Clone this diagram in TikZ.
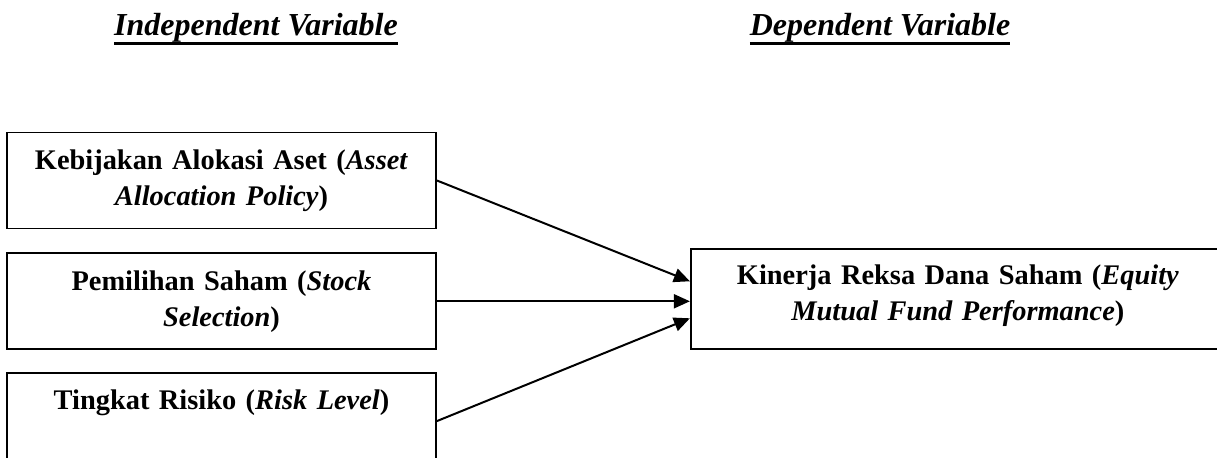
\documentclass[tikz,border=0pt]{standalone}
\usepackage{fontspec}
\setmainfont{Liberation Serif}
\usetikzlibrary{arrows.meta, positioning}

% thick underline for the headings
\newcommand{\headline}[1]{\setbox0\hbox{#1}\rlap{\rule[-4.5pt]{\wd0}{1.5pt}}\box0}

\begin{document}
\begin{tikzpicture}[
    x=0.5pt, y=-0.5pt,
    ivbox/.style={rectangle, draw=black, line width=0.9pt, minimum width=214.5pt, minimum height=48pt, text width=205pt, inner sep=0pt, align=center, font=\fontsize{14.2}{18}\selectfont\bfseries},
    dvbox/.style={rectangle, draw=black, line width=0.9pt, minimum width=280pt, minimum height=50pt},
    dvlabel/.style={text width=260pt, inner sep=0pt, align=center, font=\fontsize{14.2}{18}\selectfont\bfseries},
    head/.style={anchor=base, inner sep=0pt, font=\fontsize{16}{19}\selectfont\bfseries\itshape},
    arrow/.style={line width=1pt, -{Triangle[length=8pt, width=7pt]}}
]
    \useasboundingbox (0,0) rectangle (1217,458);
    \clip (0,0) rectangle (1217,458);

    \node (ivhead) [head] at (256,36) {\headline{Independent Variable}};
    \node (dvhead) [head] at (880,36) {\headline{Dependent Variable}};

    \node (iv1) [ivbox] at (221.5,180.5) {Kebijakan Alokasi Aset (\textit{Asset}\\ \textit{Allocation Policy})};
    \node (iv2) [ivbox, below=11.5pt of iv1] {Pemilihan Saham (\textit{Stock}\\ \textit{Selection})};
    \node (iv3) [ivbox, below=11pt of iv2] {Tingkat Risiko (\textit{Risk Level})\\ \vphantom{y}};

    \node (dv) [dvbox, right=126.5pt of iv2, yshift=1pt] {};
    \node (dvtext) [dvlabel] at ([xshift=134pt, yshift=2pt]dv.west) {Kinerja Reksa Dana Saham (\textit{Equity}\\ \textit{Mutual Fund Performance})};

    \draw [arrow] (iv1.east) -- ([yshift=9pt]dv.west);
    \draw [arrow] (iv2.east) -- (iv2.east -| dv.west);
    \draw [arrow] (iv3.east) -- ([yshift=-9.5pt]dv.west);
\end{tikzpicture}
\end{document}
